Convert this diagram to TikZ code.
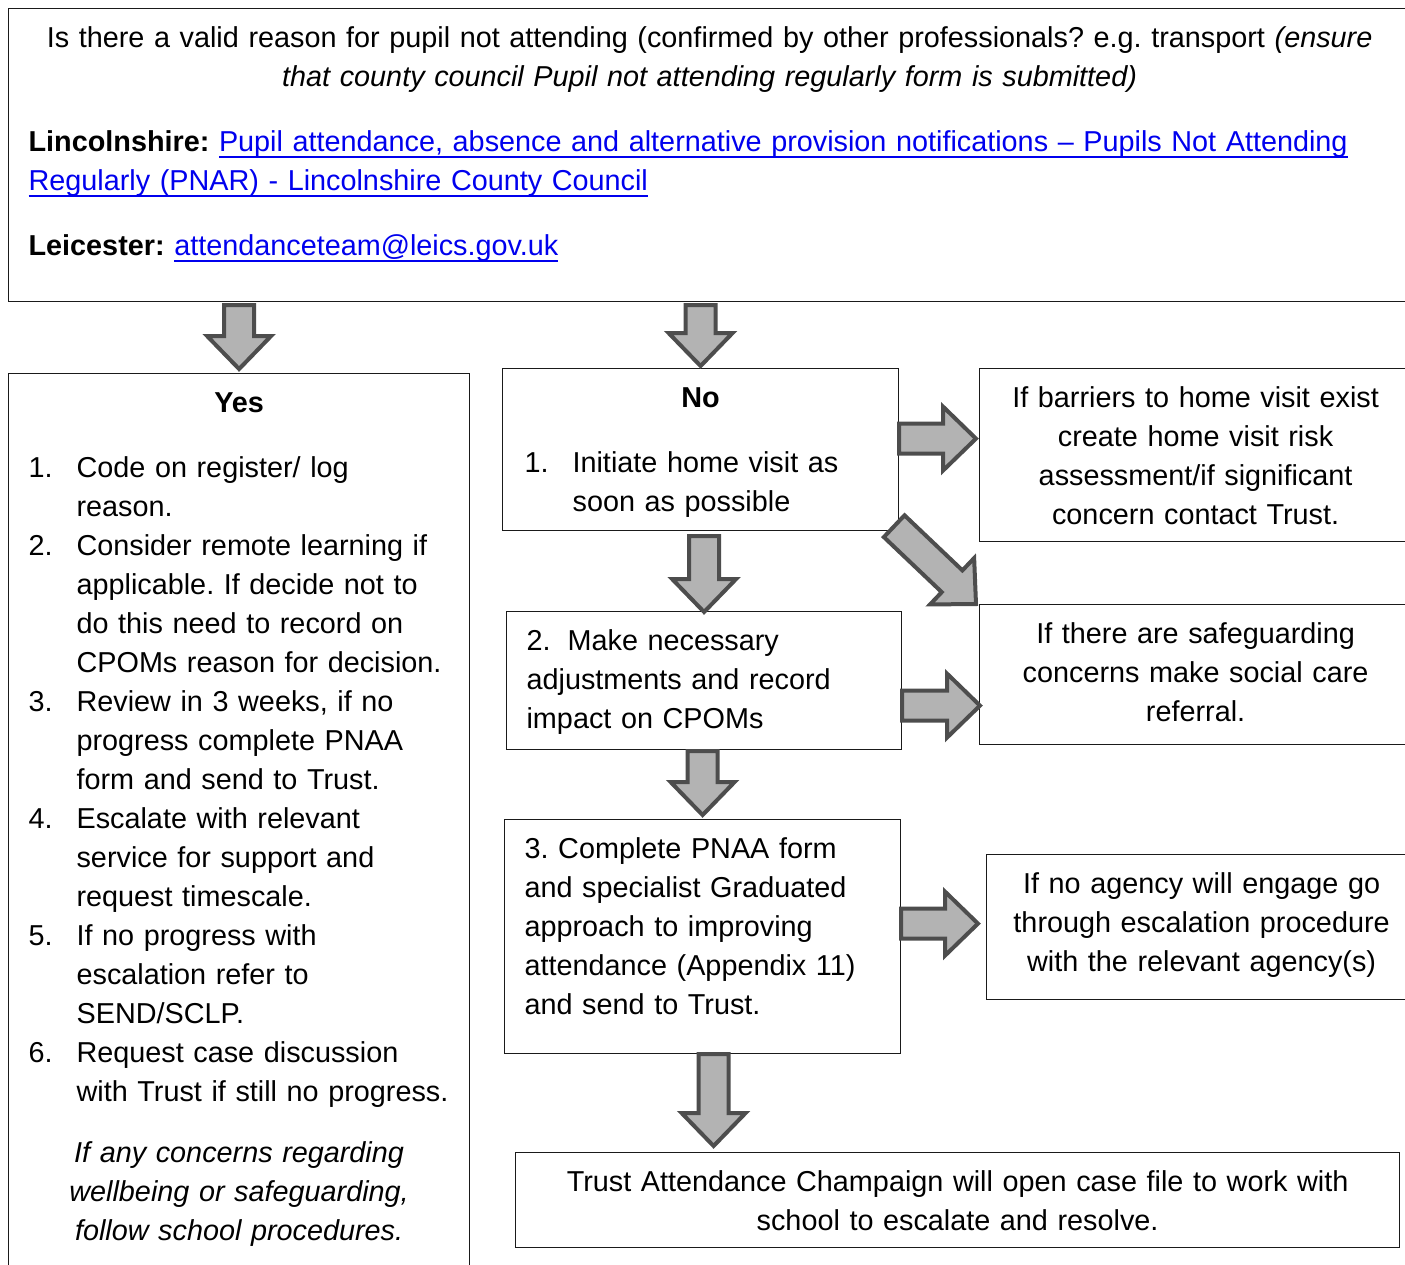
\documentclass[tikz,border=0pt]{standalone}
\usepackage{fontspec}
\setmainfont{Liberation Sans}
\usetikzlibrary{positioning,calc}
\definecolor{ink}{HTML}{1A1A1A}
\definecolor{arrfill}{HTML}{B3B3B3}
\definecolor{arrline}{HTML}{4D4D4D}
\definecolor{lnkblue}{HTML}{0000EE}
\frenchspacing
\tikzset{
  panel/.style={draw=ink, line width=0.6pt, fill=white, anchor=north west,
                inner xsep=10pt, inner ysep=0pt, text height=19.5pt,
                font=\fontsize{14.4}{19.5}\selectfont},
  lpanel/.style={panel, align=left},
  cpanel/.style={panel, align=center},
  % ---- grey block arrow, drawn from start to tip ----
  blockarr/.style={draw=arrline, fill=arrfill, line width=2pt, line join=miter,
    to path={($(\tikztotarget)!16.5pt!(\tikztostart)$) coordinate (ab)
      ($(\tikztostart)!7.5pt!90:(\tikztotarget)$)
      -- ($(ab)!7.5pt!90:(\tikztotarget)$) -- ($(ab)!16pt!90:(\tikztotarget)$)
      -- (\tikztotarget)
      -- ($(ab)!16pt!-90:(\tikztotarget)$) -- ($(ab)!7.5pt!-90:(\tikztotarget)$)
      -- ($(\tikztostart)!7.5pt!-90:(\tikztotarget)$) -- cycle}},
}
\newcommand{\lnk}[1]{\leavevmode{\color{lnkblue}\setbox0=\hbox{#1}\rlap{\rule[-3pt]{\wd0}{1pt}}\box0}}
\newcommand{\itm}[2]{\makebox[24pt][l]{#1}\mbox{#2}}

\begin{document}
\begin{tikzpicture}[x=0.5pt, y=-0.5pt]
\path[use as bounding box, fill=white] (0,0) rectangle (1405,1265);
% question at the top
\node[lpanel, text width=681pt, text depth=127pt] (qbox) at (8,8) {%
  \makebox[\linewidth]{Is there a valid reason for pupil not attending (confirmed by other professionals? e.g. transport \textit{(ensure}}\\
  \makebox[\linewidth]{\textit{that county council Pupil not attending regularly form is submitted)}}\\[13pt]
  \textbf{Lincolnshire:} \lnk{Pupil attendance, absence and alternative provision notifications – Pupils Not Attending}\\
  \lnk{Regularly (PNAR) - Lincolnshire County Council}\\[13pt]
  \textbf{Leicester:} \lnk{attendanceteam@leics.gov.uk}};
% yes branch
\node[lpanel, text width=210.5pt, text depth=431.5pt] (yesbox) at (8,373) {%
  \makebox[\linewidth]{\textbf{Yes}}\\[13pt]
  \itm{1.}{Code on register/ log}\\
  \itm{}{reason.}\\
  \itm{2.}{Consider remote learning if}\\
  \itm{}{applicable. If decide not to}\\
  \itm{}{do this need to record on}\\
  \itm{}{CPOMs reason for decision.}\\
  \itm{3.}{Review in 3 weeks, if no}\\
  \itm{}{progress complete PNAA}\\
  \itm{}{form and send to Trust.}\\
  \itm{4.}{Escalate with relevant}\\
  \itm{}{service for support and}\\
  \itm{}{request timescale.}\\
  \itm{5.}{If no progress with}\\
  \itm{}{escalation refer to}\\
  \itm{}{SEND/SCLP.}\\
  \itm{6.}{Request case discussion}\\
  \itm{}{with Trust if still no progress.}\\[11pt]
  \makebox[\linewidth]{\itshape If any concerns regarding}\\
  \makebox[\linewidth]{\itshape wellbeing or safeguarding,}\\
  \makebox[\linewidth]{\itshape follow school procedures.}};
% no branch
\node[lpanel, inner xsep=11pt, text width=176pt, text depth=61.5pt] (nobox) at (502,368) {%
  \makebox[\linewidth]{\textbf{No}}\\[13pt]
  \itm{1.}{Initiate home visit as}\\
  \itm{}{soon as possible}};
\node[cpanel, text width=196pt, text depth=67pt] (barbox) at (979,368)
  {If barriers to home visit exist\\ create home visit risk\\ assessment/if significant\\ concern contact Trust.};
\node[cpanel, text width=196pt, text depth=50.5pt] (safebox) at (979,604)
  {If there are safeguarding\\ concerns make social care\\ referral.};
\node[lpanel, text width=177.5pt, text depth=49.5pt] (adjbox) at (506,611)
  {2.\hspace{8.5pt}Make necessary\\ adjustments and record\\ impact on CPOMs};
\node[lpanel, text width=178pt, text depth=97.5pt] (pnaabox) at (504,819)
  {3. Complete PNAA form\\ and specialist Graduated\\ approach to improving\\ attendance (Appendix 11)\\ and send to Trust.};
\node[cpanel, text width=195pt, text depth=53pt] (agencybox) at (986,854)
  {If no agency will engage go\\ through escalation procedure\\ with the relevant agency(s)};
\node[cpanel, text width=422pt, text depth=28pt] (trustbox) at (515,1152)
  {Trust Attendance Champaign will open case file to work with\\ school to escalate and resolve.};
% arrows
\draw[blockarr] ([yshift=-1.5pt]yesbox.north |- qbox.south) to ([yshift=2pt]yesbox.north);
\draw[blockarr] ([yshift=-1.5pt]nobox.north |- qbox.south) to ([yshift=1pt]nobox.north);
\draw[blockarr] ([yshift=5.5pt]nobox.east) to ([shift={(-1.5pt,5.5pt)}]nobox.east -| barbox.west);
\draw[blockarr] ([shift={(-2.5pt,2.5pt)}]nobox.south east) to ([shift={(-1.5pt,0pt)}]safebox.north west);
\draw[blockarr] ([yshift=-2.5pt]adjbox.north |- nobox.south) to ([yshift=-0.5pt]adjbox.north);
\draw[blockarr] ([yshift=-12.5pt]adjbox.east) to ([shift={(0.5pt,-12.5pt)}]adjbox.east -| safebox.west);
\draw[blockarr] ([yshift=-0.5pt]pnaabox.north |- adjbox.south) to ([yshift=2pt]pnaabox.north);
\draw[blockarr] ([yshift=6.5pt]pnaabox.east) to ([shift={(-4pt,6.5pt)}]pnaabox.east -| agencybox.west);
\draw[blockarr] ([xshift=5.5pt]pnaabox.south) to ([shift={(5.5pt,3pt)}]pnaabox.south |- trustbox.north);
\end{tikzpicture}
\end{document}
